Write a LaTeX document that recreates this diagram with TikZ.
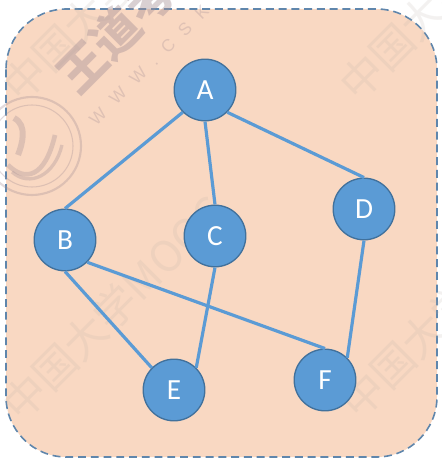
\documentclass[tikz,border=0pt]{standalone}
\usepackage{fontspec}
\setmainfont{Carlito}
\newfontfamily\cjkfont{Noto Sans CJK SC}
\newfontfamily\markfont[LetterSpace=70]{Liberation Sans}
\usepackage{xcolor}
\definecolor{panelfill}{HTML}{F9D8C2}
\definecolor{nodefill}{HTML}{5B9BD5}
\definecolor{nodeline}{HTML}{41719C}
\definecolor{panelline}{HTML}{5F86AC}
\definecolor{markfaint}{HTML}{B9ADA5}
\definecolor{markdark}{HTML}{A58F96}
\tikzset{
    vertex/.style={circle, draw=nodeline, fill=nodefill, line width=1pt, minimum size=1.63cm, inner sep=0pt, text=white, font=\fontsize{22}{22}\selectfont},
    link/.style={draw=nodefill, line width=2.4pt},
    faintmark/.style={text=markfaint, opacity=0.16, rotate=45, anchor=west, inner sep=0pt, font=\cjkfont\fontsize{32}{32}\selectfont},
    seal/.style={draw=markdark, opacity=0.32}
}
\begin{document}
\begin{tikzpicture}[x=0.026458cm,y=-0.026458cm]
    \useasboundingbox (0,0) rectangle (442,462);
    \fill[white] (0,0) rectangle (442,462);
    \draw[panelline, fill=panelfill, dash pattern=on 6pt off 3.6pt, line width=1.2pt, rounded corners=1.6cm] (6,9) rectangle (437,457);
    % watermark
    \node[faintmark] (markA) at (10,93) {中国大学MOOC};
    \node[faintmark] (markB) at (347,92) {中国大学MOOC};
    \node[faintmark] (markC) at (10,412) {中国大学MOOC};
    \node[faintmark] (markD) at (348,410) {中国大学MOOC};
    \node[rotate=45, anchor=west, inner sep=0pt, text=markdark, opacity=0.42, font=\cjkfont\bfseries\fontsize{36}{36}\selectfont] (markE) at (65,84) {王道考研};
    \node[rotate=45, anchor=west, inner sep=0pt, text=markdark, opacity=0.3, font=\markfont\fontsize{13}{13}\selectfont] (markF) at (92,122) {WWW.CSK};
    \draw[seal, line width=1.6pt] (32,146) circle (49);
    \draw[seal, line width=0.8pt] (32,146) circle (41);
    \draw[seal, line width=3.5pt] (8,165) .. controls (25,182) and (45,178) .. (55,135);
    \draw[seal, line width=2.5pt] (12,172) .. controls (30,188) and (55,175) .. (62,145);
    \draw[seal, line width=4.5pt] (14,118) .. controls (28,125) and (22,145) .. (18,155);
    % graph
    \node[vertex] (A) at (205,90) {A};
    \node[vertex] (B) at (65,240) {B};
    \node[vertex] (C) at (215,236) {C};
    \node[vertex] (D) at (364,209) {D};
    \node[vertex] (E) at (174,390) {E};
    \node[vertex] (F) at (325,380) {F};
    \draw[link] (A.south west) -- (B.north);
    \draw[link] (A.south) -- (C.north);
    \draw[link] (A.south east) -- (D.north);
    \draw[link] (B.south) -- (E.north west);
    \draw[link] (B.south east) -- (F.north);
    \draw[link] (C.south) -- (E.north east);
    \draw[link] (D.south) -- (F.north east);
\end{tikzpicture}
\end{document}
